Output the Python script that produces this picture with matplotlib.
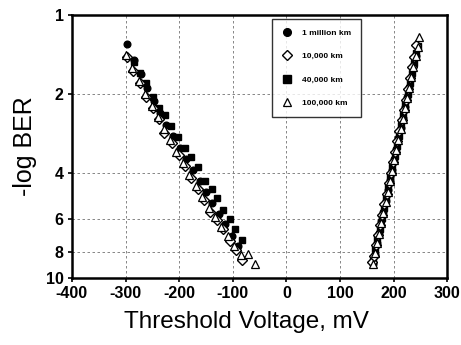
import matplotlib
matplotlib.use("Agg")
import matplotlib.pyplot as plt
from matplotlib.ticker import FixedLocator, NullLocator, FixedFormatter

# threshold voltage (mV) and -log BER for each fiber length
labels = ["1 million km", "10,000 km", "40,000 km", "100,000 km"]

# 1 million km (filled circle)
v_1m = [-297, -285, -272, -260, -247, -236, -224, -212, -199, -187, -175, -162, -150, -138, -126, -114, -102, -90,
        161, 165, 169, 173, 177, 181, 185, 189, 193, 197, 201, 205, 209, 213, 217, 221, 225, 229, 233, 237, 241]
b_1m = [1.29, 1.48, 1.68, 1.90, 2.12, 2.36, 2.62, 2.90, 3.20, 3.52, 3.90, 4.30, 4.72, 5.20, 5.72, 6.25, 6.95, 7.60,
        8.85, 8.10, 7.35, 6.75, 6.10, 5.60, 5.10, 4.65, 4.25, 3.90, 3.55, 3.25, 2.95, 2.70, 2.47, 2.25, 2.06, 1.88, 1.72, 1.57, 1.44]

# 10,000 km (open diamond)
v_10k = [-298, -286, -273, -262, -248, -238, -228, -214, -200, -189, -178, -165, -154, -142, -130, -118, -106, -94, -83,
         159, 163, 167, 171, 175, 179, 183, 187, 191, 195, 199, 203, 207, 211, 215, 219, 223, 227, 231, 235, 239, 242]
b_10k = [1.45, 1.63, 1.81, 2.05, 2.27, 2.49, 2.82, 3.08, 3.40, 3.76, 4.19, 4.61, 5.06, 5.61, 6.03, 6.55, 7.25, 7.85, 8.55,
         8.70, 8.30, 7.50, 6.90, 6.30, 5.75, 5.25, 4.80, 4.35, 3.98, 3.62, 3.32, 3.03, 2.76, 2.52, 2.30, 2.10, 1.91, 1.74, 1.58, 1.45, 1.30]

# 40,000 km (filled square)
v_40k = [-284, -273, -261, -248, -237, -226, -216, -202, -189, -178, -164, -152, -139, -129, -118, -105, -96, -83,
         162, 166, 170, 174, 178, 182, 186, 190, 194, 198, 202, 206, 210, 214, 218, 222, 226, 230, 234, 238, 242, 246]
b_40k = [1.51, 1.67, 1.82, 2.06, 2.27, 2.40, 2.64, 2.91, 3.20, 3.46, 3.78, 4.28, 4.60, 4.96, 5.52, 5.98, 6.55, 7.18,
         8.60, 7.80, 7.15, 6.55, 5.95, 5.45, 4.95, 4.50, 4.12, 3.78, 3.45, 3.15, 2.88, 2.63, 2.40, 2.19, 2.00, 1.82, 1.66, 1.52, 1.40, 1.31]

# 100,000 km (open triangle)
v_100k = [-299, -287, -275, -263, -251, -240, -229, -217, -205, -193, -181, -169, -157, -145, -133, -121, -109, -97, -85, -72, -58,
          161, 165, 169, 173, 177, 181, 185, 189, 193, 197, 201, 205, 209, 213, 217, 221, 225, 229, 233, 237, 241, 245, 248]
b_100k = [1.42, 1.60, 1.78, 2.00, 2.22, 2.45, 2.72, 3.00, 3.32, 3.66, 4.05, 4.48, 4.95, 5.45, 5.85, 6.40, 6.95, 7.60, 8.20, 8.10, 8.90,
          8.87, 8.05, 7.40, 6.80, 6.20, 5.65, 5.15, 4.70, 4.30, 3.92, 3.58, 3.28, 2.99, 2.73, 2.49, 2.27, 2.08, 1.90, 1.73, 1.58, 1.44, 1.32, 1.21]

x_ticks = [-400, -300, -200, -100, 0, 100, 200, 300]
y_ticks = [1, 2, 4, 6, 8, 10]

plt.rcParams['font.family'] = ['Liberation Sans', 'DejaVu Sans']

fig = plt.figure(figsize=(4.61, 3.45), dpi=100)
ax = fig.add_axes([0.156, 0.195, 0.814, 0.762])

ax.plot(v_1m, b_1m, 'o', color='black', ms=4.8, label=labels[0], zorder=3)
ax.plot(v_10k, b_10k, 'D', mfc='white', mec='black', mew=1.0, ms=4.6, label=labels[1], zorder=4)
ax.plot(v_40k, b_40k, 's', color='black', ms=4.6, label=labels[2], zorder=3)
ax.plot(v_100k, b_100k, '^', mfc='white', mec='black', mew=0.9, ms=5.5, label=labels[3], zorder=4)

ax.set_yscale('log')
ax.set_xlim(-400, 300)
ax.set_ylim(10, 1)
ax.yaxis.set_major_locator(FixedLocator(y_ticks))
ax.yaxis.set_major_formatter(FixedFormatter([str(t) for t in y_ticks]))
ax.yaxis.set_minor_locator(NullLocator())
ax.set_xticks(x_ticks)
ax.set_xticklabels([str(t) for t in x_ticks])

ax.grid(True, color='0.45', lw=0.6, dashes=(3, 3))
ax.set_axisbelow(True)
for s in ax.spines.values():
    s.set_linewidth(1.8)
ax.tick_params(direction='out', length=3, width=1.2, labelsize=11.5, pad=3)
for lab in ax.get_xticklabels() + ax.get_yticklabels():
    lab.set_fontweight('bold')

ax.set_xlabel("Threshold Voltage, mV", fontsize=17.5)
ax.xaxis.set_label_coords(0.464, -0.125)
ax.set_ylabel("-log BER", fontsize=18, labelpad=6)

leg = ax.legend(loc='upper left', bbox_to_anchor=(0.53, 0.99), fontsize=6, frameon=True,
                fancybox=False, edgecolor='black', handletextpad=1.3, labelspacing=1.85,
                borderpad=1.2, handlelength=1.0, borderaxespad=0.2, markerscale=1.15)
leg.get_frame().set_linewidth(1.0)
for t in leg.get_texts():
    t.set_fontweight('bold')

fig.savefig("out.png", dpi=100)
